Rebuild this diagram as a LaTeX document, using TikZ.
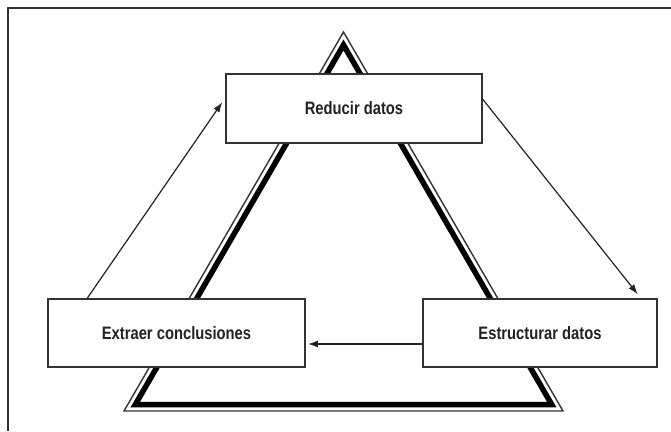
\documentclass[tikz,border=0pt]{standalone}
\usepackage{fontspec}
\newfontfamily\boxfont[FakeStretch=0.82]{Liberation Sans}
\usetikzlibrary{arrows.meta,calc}
\definecolor{ink}{HTML}{222222}
\definecolor{edge}{HTML}{333333}
\tikzset{
  stagebox/.style={draw=edge, line width=1.5pt, fill=white, rectangle, inner sep=0pt,
    font=\boxfont\bfseries\fontsize{18}{20}\selectfont, text=ink},
  flowarrow/.style={draw=ink, line width=1.2pt, -{Latex[length=10pt,width=7pt]}},
  trithin/.style={draw=edge, line width=1.4pt, line join=miter},
  trithick/.style={draw=black, line width=5.5pt, line join=miter},
  frameline/.style={draw=edge, line width=1.5pt}
}
\begin{document}
\begin{tikzpicture}[x=1pt,y=-1pt]
\useasboundingbox (0,0) rectangle (671,431);
\fill[white] (0,0) rectangle (671,431);
% frame
\coordinate (f1) at (8,431);
\coordinate (f2) at (8,8);
\coordinate (f3) at (671,8);
\draw[frameline] (f1) -- (f2) -- (f3);
% triangle (double line)
\coordinate (oa) at (343.5,32);
\coordinate (ol) at (124,411);
\coordinate (or) at (563,411);
\coordinate (ia) at (343.5,45);
\coordinate (il) at (135.3,404.5);
\coordinate (ir) at (551.7,404.5);
\draw[trithin] (oa) -- (ol) -- (or) -- cycle;
\draw[trithick] (ia) -- (il) -- (ir) -- cycle;
% boxes
\node[stagebox, minimum width=256pt, minimum height=69pt] (red) at (354,108.5) {Reducir datos};
\node[stagebox, minimum width=257pt, minimum height=68pt] (ext) at (176.5,333) {Extraer conclusiones};
\node[stagebox, minimum width=234pt, minimum height=68pt] (est) at (540,333) {Estructurar datos};
% arrows
\draw[flowarrow] ($(ext.north west)+(40,0)$) -- ($(red.north west)+(-3,29)$);
\draw[flowarrow] ($(red.north east)+(0,26)$) -- ($(est.north east)+(-20,-4)$);
\draw[flowarrow, line width=1.8pt] ($(est.west)+(0,11)$) -- ($(ext.east)+(2,11)$);
\end{tikzpicture}
\end{document}
